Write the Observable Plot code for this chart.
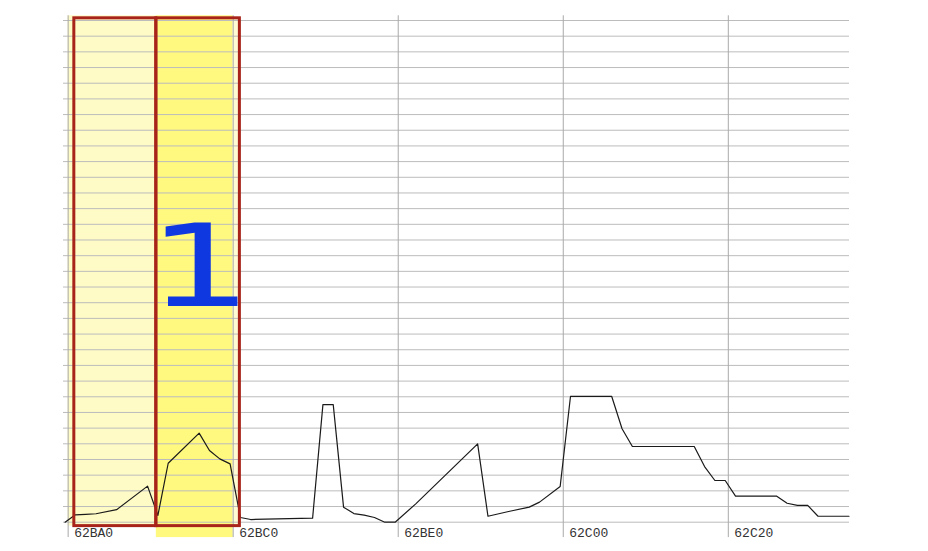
<!DOCTYPE html>
<html>
<head>
<meta charset="utf-8">
<script src="https://cdn.jsdelivr.net/npm/d3@7"></script>
<script src="https://cdn.jsdelivr.net/npm/@observablehq/plot@0.6"></script>
<style>
  html, body { margin: 0; padding: 0; background: #fff; }
  #chart svg { display: block; }
</style>
</head>
<body>
<div id="chart"></div>
<script>
// Base address of the x axis (hex addresses)
const BASE = 0x62BA0;

// Tick labels (hex addresses)
const tickLabels = ["62BA0", "62BC0", "62BE0", "62C00", "62C20"];

// Series: offsets from BASE and values
const offsets = [-0.6, 1.4, 3.4, 5.4, 9.4, 15.4, 17.4, 19.4, 25.4, 27.4, 29.4, 31.4, 33.4, 35.4, 47.4,
  49.4, 51.4, 53.4, 55.4, 57.4, 59.4, 61.4, 63.4, 67.4, 79.4, 81.4, 85.4, 89.4, 91.4, 95.4,
  97.4, 105.4, 107.4, 109.4, 121.4, 123.4, 125.4, 127.4, 129.4, 137.4, 139.4, 141.4, 143.4, 145.4, 151.4];
const values = [0, 0.47, 0.5, 0.54, 0.8, 2.3, 0.43, 3.76, 5.68, 4.57, 4.04, 3.72, 0.3, 0.17, 0.26,
  7.5, 7.5, 0.96, 0.55, 0.45, 0.3, 0, 0, 1.17, 5.0, 0.38, 0.68, 0.96, 1.28, 2.28,
  8.02, 8.02, 5.96, 4.83, 4.83, 3.55, 2.66, 2.66, 1.66, 1.66, 1.21, 1.07, 1.07, 0.38, 0.38];

// Horizontal grid levels
const yGrid = d3.range(0, 33);

// Highlighted blocks (offsets from BASE)
const blockStarts = [1.2, 17.1];
const blockEnds = [17.1, 33.3];
const blockLabel = "1";

const tickValues = tickLabels.map(s => parseInt(s, 16));
const points = offsets.map((o, i) => ({x: BASE + o, y: values[i]}));
const blocks = blockStarts.map((s, i) => ({x1: BASE + s, x2: BASE + blockEnds[i]}));

const xMin = BASE - 0.9, xMax = BASE + 151.5;

const chart = Plot.plot({
  width: 928,
  height: 551,
  marginLeft: 63,
  marginRight: 79,
  marginTop: 20,
  marginBottom: 29.3,
  x: {domain: [xMin, xMax], axis: null},
  y: {domain: [0, 32], axis: null},
  style: {background: "#fff", overflow: "visible"},
  marks: [
    // pale yellow column
    Plot.rect([blocks[0]], {x1: d => tickValues[0], x2: "x2", y1: -0.25, y2: 32.3, fill: "#fffbc6"}),
    // bright yellow column
    Plot.rect([blocks[1]], {x1: "x1", x2: d => tickValues[1], y1: -0.98, y2: 32.3, fill: "#fff97f"}),
    Plot.rect([blocks[1]], {x1: d => tickValues[1], x2: "x2", y1: -0.25, y2: 32.2, fill: "#fffbd2"}),
    // grid
    Plot.ruleY(yGrid, {x1: xMin, x2: xMax, stroke: "#bcbcbc", strokeWidth: 1}),
    Plot.ruleX(tickValues, {y1: -0.98, y2: 32.3, stroke: "#a9a9a9", strokeWidth: 1}),
    // series
    Plot.line(points, {x: "x", y: "y", stroke: "#1a1a1a", strokeWidth: 1.2}),
    // red block outlines
    Plot.rect(blocks, {x1: "x1", x2: "x2", y1: -0.25, y2: 32.14, fill: "none", stroke: "#a8231a", strokeWidth: 3}),
    // big label
    Plot.text([blockLabel], {x: BASE + 25.6, y: 13.76, text: d => d, lineAnchor: "bottom", textAnchor: "middle",
      fill: "#1038e0", fontSize: 114, fontWeight: "normal", fontFamily: "DejaVu Sans"}),
    // tick labels
    Plot.text(tickLabels, {x: (d, i) => tickValues[i], y: -0.7, text: d => d, textAnchor: "start", dx: 6,
      lineAnchor: "middle", fill: "#333", fontSize: 13, fontFamily: "Liberation Mono"})
  ]
});

document.getElementById("chart").appendChild(chart);

// widen the big "1" glyph horizontally as in the reference (scale about its own centre)
d3.select(chart).selectAll("text").filter(function() { return this.textContent === blockLabel; })
  .each(function() {
    const bb = this.getBBox();
    const cx = bb.x + bb.width / 2;
    const prev = this.getAttribute("transform") || "";
    this.setAttribute("transform", `${prev} translate(${cx},0) scale(1.45,1) translate(${-cx},0)`);
  });
</script>
</body>
</html>
